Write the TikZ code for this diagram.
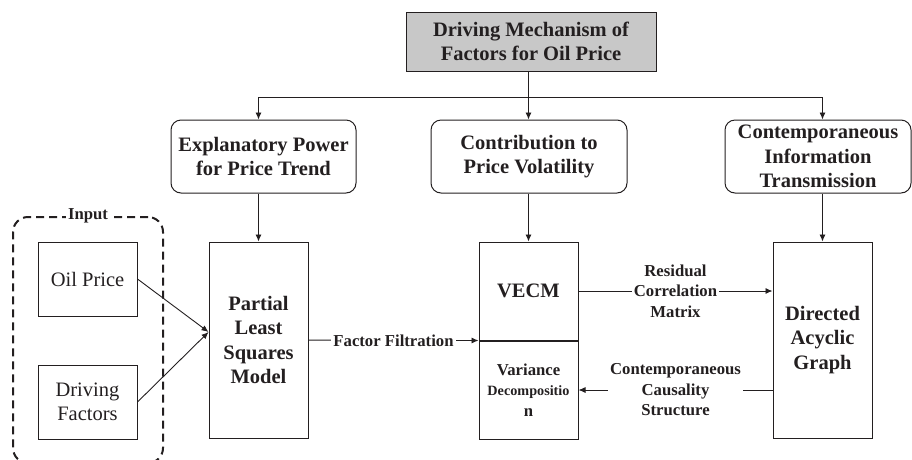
\documentclass[tikz,border=0pt]{standalone}
\usepackage{fontspec}
\setmainfont{Liberation Serif}
\usepackage{tikz}
\usetikzlibrary{shapes,arrows.meta}
\usetikzlibrary{positioning}
\definecolor{inkgray}{RGB}{35,31,32}
\definecolor{headgray}{RGB}{200,200,200}
\newcommand{\bigtxt}{\fontsize{20.5}{24.5}\selectfont\bfseries}
\newcommand{\regtxt}{\fontsize{20.5}{24.5}\selectfont}
\newcommand{\smalltxt}{\fontsize{16.7}{20.5}\selectfont\bfseries}

\begin{document}
\begin{tikzpicture}[x=1pt,y=-1pt,>={Latex[length=7pt,width=6pt]},line width=0.9pt,color=inkgray]
\tikzstyle{every node}=[font=\bigtxt,align=center,inner sep=0pt]
\tikzstyle{box}=[draw,line width=1pt,minimum width=99pt]
\tikzstyle{rbox}=[draw,line width=1pt,rounded corners=10pt,minimum height=73pt]
\tikzstyle{lbl}=[font=\smalltxt,fill=white,inner sep=2pt]
\useasboundingbox (0,0) rectangle (912,459);
%\path[use as bounding box] (0,0) rectangle (912,459);
\path node[box,fill=headgray,minimum width=250pt,minimum height=59pt] (top) at (531,41.5) {Driving Mechanism of\\Factors for Oil Price};
\path node[rbox,minimum width=185pt] (expl) at (263.5,156.5) {Explanatory Power\\for Price Trend};
\path node[rbox,minimum width=196pt] (contr) at (529,156.5) {Contribution to\\Price Volatility};
\path node[rbox,minimum width=186pt] (cont) at (818,156.5) {Contemporaneous\\Information\\Transmission};
\coordinate (split) at (528.5,97);

\path node[box,minimum height=196pt] (pls) at (258.5,340) {Partial\\Least\\Squares\\Model};
\path node[box,minimum height=98pt] (vecm) at (528.5,291) {VECM};
\path node[box,minimum height=98pt,font=\smalltxt,below=0pt of vecm] (var) {Variance\\\fontsize{14.2}{17.5}\selectfont Decompositio\\n};
\path node[box,minimum height=196pt] (dag) at (822.5,340) {Directed\\Acyclic\\Graph};

% input block
\path node[draw,dashed,line width=2pt,dash pattern=on 8pt off 5pt,rounded corners=15pt,minimum width=150pt,minimum height=246pt] (inbox) at (88,340) {};
\path node[lbl] (intitle) at (inbox.north) {Input};
\path node[box,font=\regtxt,minimum height=74pt] (oil) at (87.5,279) {Oil Price};
\path node[box,font=\regtxt,minimum height=74pt,below=48pt of oil] (drv) {Driving\\Factors};

% tree from the top box
\draw (top.south -| split) -- (split);
\draw (split -| pls) -- (split -| dag);
\draw[->] (split -| pls) -- (expl.north -| pls);
\draw[->] (split) -- (contr.north -| split);
\draw[->] (split -| dag) -- (cont.north -| dag);
\draw[->] (expl.south -| pls) -- (pls);
\draw[->] (contr.south -| vecm) -- (vecm);
\draw[->] (cont.south -| dag) -- (dag);

\draw[->] (oil.east) -- ([yshift=8pt]pls.west);
\draw[->] (drv.east) -- ([yshift=8pt]pls.west);
\draw[->] (pls) -- node[lbl] {Factor Filtration} (vecm.south west);
\draw[->] (vecm) -- node[lbl] {Residual\\Correlation\\Matrix} (vecm -| dag.west);
\draw[->] (var -| dag.west) -- node[lbl] {Contemporaneous\\Causality\\Structure} (var);
\end{tikzpicture}
\end{document}
